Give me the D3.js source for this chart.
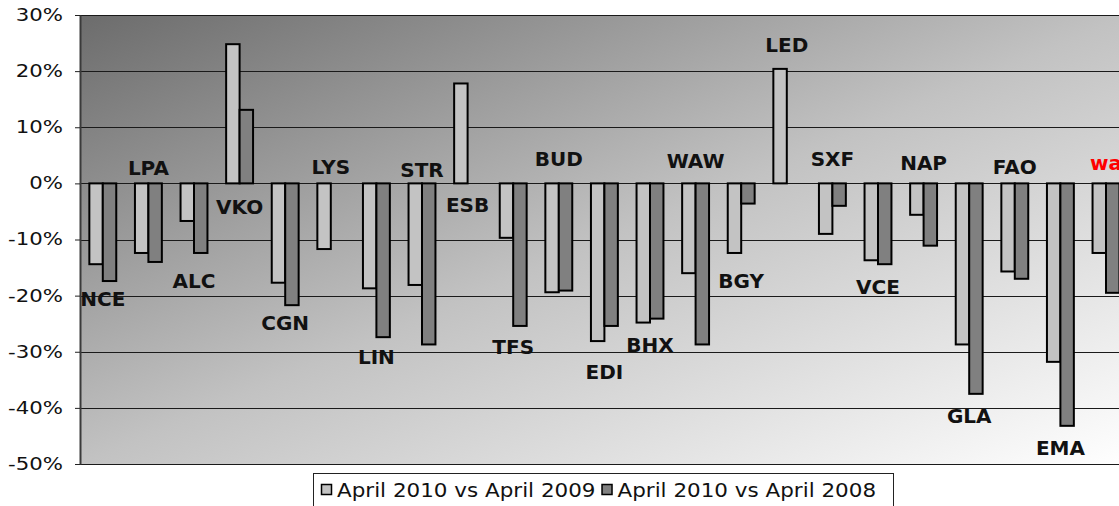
<!DOCTYPE html>
<html>
<head>
<meta charset="utf-8">
<script src="https://cdn.jsdelivr.net/npm/d3@7"></script>
<style>
  body { margin: 0; background: #fff; }
  svg { display: block; }
</style>
</head>
<body>
<svg id="chart" width="1119" height="506"></svg>
<script>
// airports, change of passengers
const airports = ["NCE","LPA","ALC","VKO","CGN","LYS","LIN","STR","ESB","TFS","BUD","EDI",
                  "BHX","WAW","BGY","LED","SXF","VCE","NAP","GLA","FAO","EMA","wa"];
const vs2009 = [-14.4,-12.4,-6.7,24.8,-17.7,-11.7,-18.7,-18.1,17.8,-9.7,-19.4,-28.1,
                -24.8,-16.0,-12.4,20.4,-9.0,-13.7,-5.6,-28.7,-15.7,-31.8,-12.4];
const vs2008 = [-17.4,-14.0,-12.4,13.1,-21.7,null,-27.4,-28.7,null,-25.4,-19.1,-25.4,
                -24.1,-28.7,-3.6,null,-4.0,-14.4,-11.1,-37.5,-17.0,-43.2,-19.5];
// where each airport label sits (value axis, %)
const labelAt = [-20.5,2.8,-17.3,-4.1,-24.9,3.0,-30.9,2.5,-3.8,-29.1,4.3,-33.6,
                 -28.8,4.0,-17.3,24.7,4.3,-18.5,3.6,-41.4,2.9,-47.2,3.7];
const seriesNames = ["April 2010 vs April 2009","April 2010 vs April 2008"];
const yTicks = [0.3,0.2,0.1,0,-0.1,-0.2,-0.3,-0.4,-0.5];

const svg = d3.select("#chart");
const plotLeft = 80, plotTop = 15, plotBottom = 464, step = 45.6;
const plotRight = plotLeft + airports.length * step;

const x = d3.scaleBand()
  .domain(airports)
  .range([plotLeft, plotRight])
  .paddingInner(0.41)
  .paddingOuter(0.205);
const xs = d3.scaleBand()
  .domain(seriesNames)
  .range([0, x.bandwidth()]);
const y = d3.scaleLinear().domain([-0.5, 0.3]).range([plotBottom, plotTop]);
const fills = d3.scaleOrdinal().domain(seriesNames).range(["#c3c3c3", "#808080"]);

// plot background gradient
const defs = svg.append("defs");
const grad = defs.append("linearGradient")
  .attr("id", "bg")
  .attr("x1", 0).attr("y1", 0).attr("x2", 1).attr("y2", 1);
grad.append("stop").attr("offset", 0).attr("stop-color", "#6c6c6c");
grad.append("stop").attr("offset", 0.5).attr("stop-color", "#c2c2c2");
grad.append("stop").attr("offset", 1).attr("stop-color", "#ffffff");

svg.append("rect")
  .attr("x", plotLeft).attr("y", plotTop)
  .attr("width", plotRight - plotLeft).attr("height", plotBottom - plotTop)
  .attr("fill", "url(#bg)");

// grid
svg.append("g")
  .selectAll("line")
  .data(yTicks)
  .join("line")
  .attr("x1", plotLeft).attr("x2", plotRight)
  .attr("y1", d => Math.round(y(d)) + 0.5)
  .attr("y2", d => Math.round(y(d)) + 0.5)
  .attr("stroke", "#1a1a1a")
  .attr("stroke-width", 1);

// bars
const rows = airports.map((a, i) => ({ a: a, vals: [vs2009[i], vs2008[i]] }));
const groups = svg.append("g")
  .selectAll("g")
  .data(rows)
  .join("g")
  .attr("transform", d => `translate(${x(d.a)},0)`);

groups.selectAll("rect")
  .data(d => d.vals.map((v, k) => ({ s: seriesNames[k], v: v })).filter(e => e.v !== null))
  .join("rect")
  .attr("x", d => xs(d.s))
  .attr("width", xs.bandwidth())
  .attr("y", d => y(Math.max(0, d.v / 100)))
  .attr("height", d => Math.abs(y(d.v / 100) - y(0)))
  .attr("fill", d => fills(d.s))
  .attr("stroke", "#000")
  .attr("stroke-width", 2);

// airport labels
svg.append("g")
  .selectAll("text")
  .data(airports)
  .join("text")
  .attr("x", d => x(d) + x.bandwidth() / 2)
  .attr("y", (d, i) => y(labelAt[i] / 100))
  .attr("dy", "0.36em")
  .attr("text-anchor", "middle")
  .attr("font-family", "DejaVu Sans")
  .attr("font-weight", "bold")
  .attr("font-size", 20)
  .attr("fill", d => d === "wa" ? "#ff0000" : "#111")
  .text(d => d);

// value axis
const stretch = 1.25;
const yAxis = svg.append("g")
  .attr("transform", `translate(${plotLeft},0)`)
  .call(d3.axisLeft(y)
    .tickValues(yTicks)
    .tickSize(5)
    .tickSizeOuter(0)
    .tickFormat(d => d3.format(".0%")(d).replace("\u2212", "-")));
yAxis.select(".domain").attr("stroke", "#3a3a3a").attr("stroke-width", 2);
yAxis.selectAll(".tick line").attr("stroke", "#222");
yAxis.selectAll(".tick text")
  .attr("font-family", "DejaVu Sans")
  .attr("font-size", 17)
  .attr("fill", "#111")
  .attr("x", -17 / stretch)
  .attr("transform", `scale(${stretch},1)`);

// legend
const lg = svg.append("g");
lg.append("rect")
  .attr("x", 313.5).attr("y", 473.5)
  .attr("width", 580).attr("height", 40)
  .attr("fill", "#fff")
  .attr("stroke", "#222");

const lstretch = 1.13;
let lx = 321;
seriesNames.forEach(name => {
  lg.append("rect")
    .attr("x", lx + 0.5).attr("y", 484.5)
    .attr("width", 10).attr("height", 10)
    .attr("fill", fills(name))
    .attr("stroke", "#000")
    .attr("stroke-width", 1.5);
  const t = lg.append("text")
    .attr("x", (lx + 16) / lstretch)
    .attr("y", 497)
    .attr("transform", `scale(${lstretch},1)`)
    .attr("font-family", "DejaVu Sans")
    .attr("font-size", 19)
    .attr("fill", "#111")
    .text(name);
  lx = lx + 16 + t.node().getComputedTextLength() * lstretch + 6;
});
</script>
</body>
</html>
